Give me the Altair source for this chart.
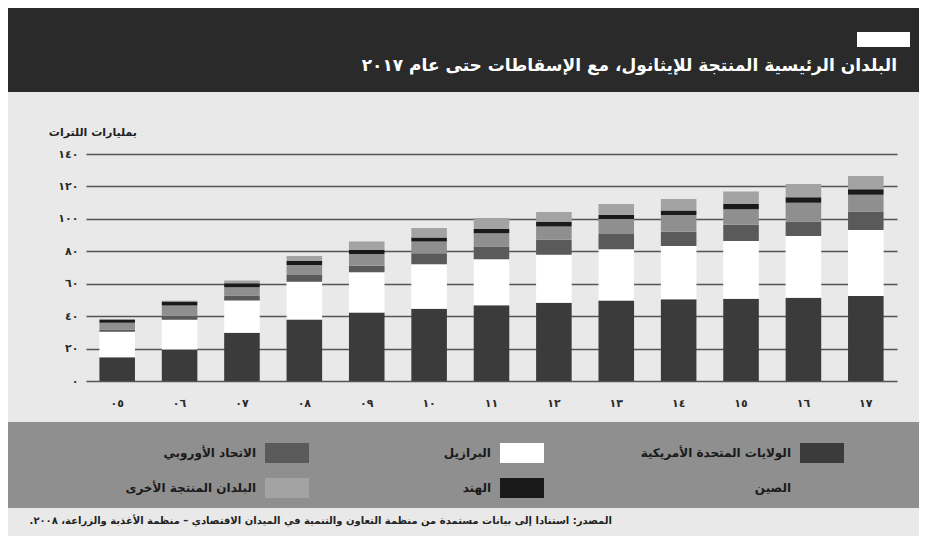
import altair as alt
import pandas as pd

# ---------------- data ----------------
years = ["٠٥", "٠٦", "٠٧", "٠٨", "٠٩", "١٠", "١١", "١٢", "١٣", "١٤", "١٥", "١٦", "١٧"]
series = ["الولايات المتحدة الأمريكية", "البرازيل", "الاتحاد الأوروبي",
          "الصين", "الهند", "البلدان المنتجة الأخرى"]
usa = [14.6, 19.5, 29.8, 38.0, 42.2, 44.6, 46.7, 48.3, 49.6, 50.4, 50.8, 51.4, 52.5]
brazil = [15.8, 18.2, 19.8, 23.2, 24.8, 27.4, 28.4, 29.5, 31.7, 32.9, 35.6, 38.1, 40.7]
eu = [1.2, 2.5, 3.1, 4.1, 4.1, 6.8, 7.8, 9.3, 9.3, 8.8, 9.9, 8.8, 11.3]
china = [4.3, 6.4, 5.1, 6.2, 7.2, 7.2, 8.3, 8.2, 9.3, 10.3, 9.7, 11.7, 10.3]
india = [2.1, 2.5, 2.5, 2.5, 2.5, 2.5, 2.5, 2.7, 2.5, 2.7, 3.1, 3.3, 3.5]
others = [0.3, 0.4, 1.7, 3.1, 5.3, 5.8, 6.8, 6.2, 6.8, 7.2, 7.8, 8.2, 8.2]

y_ticks = [0, 20, 40, 60, 80, 100, 120, 140]
y_tick_labels = ["٠", "٢٠", "٤٠", "٦٠", "٨٠", "١٠٠", "١٢٠", "١٤٠"]

title_text = "البلدان الرئيسية المنتجة للإيثانول، مع الإسقاطات حتى عام ٢٠١٧"
unit_text = "بمليارات اللترات"
source_text = ("المصدر: استنادا إلى بيانات مستمدة من منظمة التعاون والتنمية في الميدان "
               "الاقتصادي – منظمة الأغذية والزراعة، ٢٠٠٨.\u200f")

# ---------------- styles ----------------
colors = ["#3b3b3b", "#ffffff", "#5a5a5a", "#8f8f8f", "#1a1a1a", "#a3a3a3"]
FONT = "DejaVu Sans"
W, H = 811, 227
PAD = {"left": 78, "top": 146, "right": 22, "bottom": 155}

values_by_series = [usa, brazil, eu, china, india, others]
rows = []
for si, (name, vals) in enumerate(zip(series, values_by_series)):
    for y, v in zip(years, vals):
        rows.append({"year": y, "series": name, "value": v, "order": si})
df = pd.DataFrame(rows)

color_scale = alt.Scale(domain=series, range=colors)

label_expr = " : ".join(
    f"datum.value == {v} ? '{l}'" for v, l in zip(y_ticks, y_tick_labels)
) + " : ''"

bars = alt.Chart(df).mark_bar(strokeWidth=0).encode(
    x=alt.X("year:N", sort=years, title=None,
            scale=alt.Scale(paddingInner=0.43, paddingOuter=0.215),
            axis=alt.Axis(domain=False, ticks=False, labelAngle=0,
                          labelFont=FONT, labelFontSize=11, labelFontWeight="bold",
                          labelColor="#2a2a2a", labelPadding=16)),
    y=alt.Y("value:Q", stack="zero", title=None,
            scale=alt.Scale(domain=[0, 140], nice=False),
            axis=alt.Axis(values=y_ticks, labelExpr=label_expr, domain=False, ticks=False,
                          grid=True, gridColor="#555555", gridWidth=1.6, gridOpacity=1,
                          labelFont=FONT, labelFontSize=11, labelFontWeight="bold",
                          labelColor="#2a2a2a", labelPadding=8)),
    color=alt.Color("series:N", scale=color_scale, legend=None),
    order=alt.Order("order:Q"),
)

one = alt.Data(values=[{}])

header = alt.Chart(one).mark_rect(color="#2a2a2a").encode(
    x=alt.value(-78), x2=alt.value(833), y=alt.value(-146), y2=alt.value(-62))
header_box = alt.Chart(one).mark_rect(color="#ffffff").encode(
    x=alt.value(771), x2=alt.value(824), y=alt.value(-122), y2=alt.value(-107))
title = alt.Chart(one).mark_text(
    font=FONT, fontSize=17, fontWeight="bold", color="#ffffff",
    align="right", baseline="middle").encode(
    x=alt.value(811), y=alt.value(-88), text=alt.value(title_text))
unit = alt.Chart(one).mark_text(
    font=FONT, fontSize=11, fontWeight="bold", color="#222222",
    align="right", baseline="middle").encode(
    x=alt.value(51), y=alt.value(-21), text=alt.value(unit_text))

band = alt.Chart(one).mark_rect(color="#8f8f8f").encode(
    x=alt.value(-78), x2=alt.value(833), y=alt.value(268), y2=alt.value(354))

leg_df = pd.DataFrame({"series": series,
                       "col": [0, 1, 2, 0, 1, 2],
                       "row": [0, 0, 0, 1, 1, 1]})
col_x = "[714, 414, 179][datum.col]"
row_y = "[289, 324][datum.row]"
leg_base = alt.Chart(leg_df).transform_calculate(
    bx=col_x, bx2=col_x + " + 44", by=row_y, by2=row_y + " + 20",
    tx=col_x + " - 9", ty=row_y + " + 10")
leg_boxes = leg_base.mark_rect(strokeWidth=0).encode(
    x=alt.X("bx:Q", scale=None, axis=None), x2="bx2:Q",
    y=alt.Y("by:Q", scale=None, axis=None), y2="by2:Q",
    color=alt.Color("series:N", scale=color_scale, legend=None))
leg_text = leg_base.mark_text(
    font=FONT, fontSize=12, fontWeight="bold", color="#1a1a1a",
    align="right", baseline="middle").encode(
    x=alt.X("tx:Q", scale=None, axis=None),
    y=alt.Y("ty:Q", scale=None, axis=None),
    text="series:N")

source = alt.Chart(one).mark_text(
    font=FONT, fontSize=10, fontWeight="bold", color="#222222",
    align="right", baseline="middle").encode(
    x=alt.value(526), y=alt.value(367), text=alt.value(source_text))

chart = alt.layer(
    header, header_box, title, unit, bars, band, leg_boxes, leg_text, source
).resolve_scale(x="independent", y="independent").properties(
    width=W, height=H, padding=PAD,
    autosize=alt.AutoSizeParams(type="none"),
    background="#e9e9e9",
).configure_view(stroke=None)

chart.save("out.html", embed_options={"renderer": "svg", "actions": False})
